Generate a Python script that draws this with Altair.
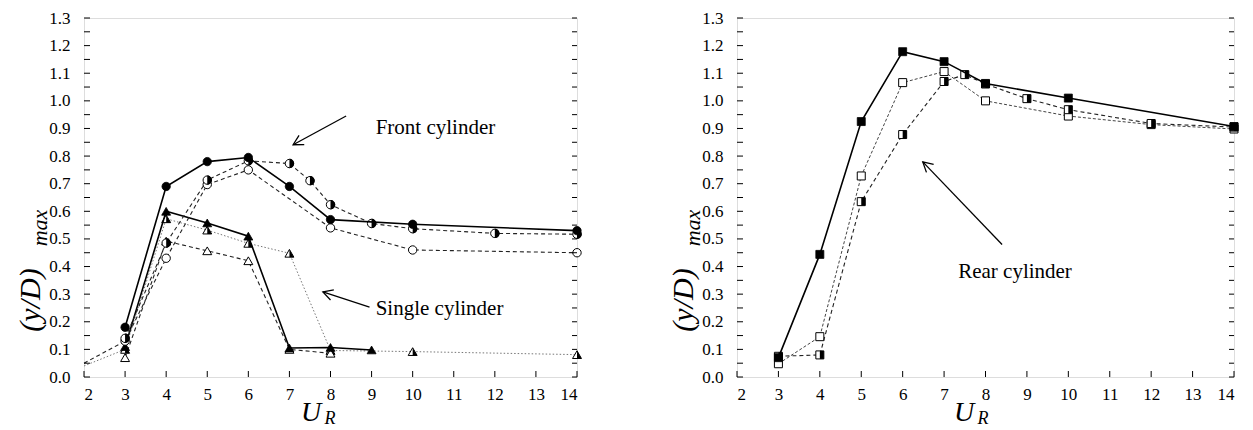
import altair as alt
import pandas as pd

FONT = "Liberation Serif"
WL, WR, H = 493, 497, 359

x_tick_vals = [2, 3, 4, 5, 6, 7, 8, 9, 10, 11, 12, 13, 14]
y_label_vals = [0.0, 0.1, 0.2, 0.3, 0.4, 0.5, 0.6, 0.7, 0.8, 0.9, 1.0, 1.1, 1.2, 1.3]
y_minor_vals = [0.0, 0.05, 0.1, 0.15, 0.2, 0.25, 0.3, 0.35, 0.4, 0.45, 0.5, 0.55, 0.6,
                0.65, 0.7, 0.75, 0.8, 0.85, 0.9, 0.95, 1.0, 1.05, 1.1, 1.15, 1.2, 1.25, 1.3]

# ---- left panel (front / single cylinder) ----
L_fc_x = [3, 4, 5, 6, 7, 8, 10, 14]
L_fc_y = [0.18, 0.69, 0.78, 0.795, 0.69, 0.57, 0.553, 0.53]
L_hc_x = [3, 4, 5, 6, 7, 7.5, 8, 9, 10, 12, 14]
L_hc_y = [0.14, 0.485, 0.713, 0.783, 0.773, 0.711, 0.624, 0.556, 0.537, 0.52, 0.517]
L_oc_x = [2, 3, 4, 5, 6, 8, 10, 14]
L_oc_y = [0.05, 0.13, 0.43, 0.697, 0.75, 0.54, 0.46, 0.45]
L_ft_x = [3, 4, 5, 6, 7, 8, 9]
L_ft_y = [0.11, 0.60, 0.558, 0.51, 0.105, 0.107, 0.098]
L_ht_x = [2, 3, 4, 5, 6, 7, 8, 10, 14]
L_ht_y = [0.04, 0.10, 0.573, 0.532, 0.484, 0.448, 0.096, 0.092, 0.081]
L_ot_x = [3, 4, 5, 6, 7, 8]
L_ot_y = [0.07, 0.492, 0.457, 0.421, 0.10, 0.086]

# ---- right panel (rear cylinder) ----
R_fs_x = [3, 4, 5, 6, 7, 8, 10, 14]
R_fs_y = [0.07, 0.444, 0.925, 1.178, 1.142, 1.063, 1.01, 0.907]
R_hs_x = [3, 4, 5, 6, 7, 7.5, 8, 9, 10, 12, 14]
R_hs_y = [0.075, 0.08, 0.635, 0.878, 1.07, 1.095, 1.061, 1.008, 0.968, 0.918, 0.905]
R_os_x = [3, 4, 5, 6, 7, 8, 10, 12, 14]
R_os_y = [0.048, 0.146, 0.728, 1.066, 1.106, 1.0, 0.945, 0.914, 0.898]

LINE_STYLES = {
    "solid": dict(stroke="black", strokeWidth=1.6),
    "dashed": dict(stroke="#222222", strokeWidth=1.1, strokeDash=[4, 3]),
    "fdashed": dict(stroke="#444444", strokeWidth=1.0, strokeDash=[3, 2]),
    "dotted": dict(stroke="#777777", strokeWidth=1.0, strokeDash=[1.5, 2]),
}

SC = 70   # circle size
ST = 80   # triangle size
SS = 64   # square size
HALF_CIRCLE = "M0,-1A1,1,0,0,1,0,1Z"
HALF_TRI = "M0,-0.866L1,0.866L0,0.866Z"
HALF_SQ = "M0,-1L1,-1L1,1L0,1Z"
ARROW_HEAD = "M-1,-0.55L0,0L-1,0.55"

xs = alt.Scale(domain=[2, 14], nice=False, zero=False)
ys = alt.Scale(domain=[0, 1.3], nice=False, zero=False)
X = alt.X("x:Q", scale=xs, axis=alt.Axis(values=x_tick_vals, title=None, grid=False, ticks=False,
                                          domain=False, labelFont=FONT, labelFontSize=17,
                                          labelPadding=9, labelColor="black"))
Y = alt.Y("y:Q", scale=ys, axis=alt.Axis(values=y_label_vals, format=".1f", title=None, grid=False,
                                          ticks=False, domain=False, labelFont=FONT, labelFontSize=17,
                                          labelPadding=14, labelColor="black"))


def series_layers(xv, yv, line, marker):
    df = pd.DataFrame({"x": xv, "y": yv})
    base = alt.Chart(df).encode(x=X, y=Y)
    layers = [base.mark_line(**LINE_STYLES[line])]
    # markers at x=2 sit under the axis line in the reference: not drawn
    mb = alt.Chart(df[df["x"] > 2]).encode(x=X, y=Y)
    if marker == "fcircle":
        layers.append(mb.mark_point(shape="circle", filled=True, fill="black", stroke="black",
                                    strokeWidth=0.8, size=SC, opacity=1))
    elif marker == "ocircle":
        layers.append(mb.mark_point(shape="circle", filled=True, fill="white", stroke="black",
                                    strokeWidth=1, size=SC, opacity=1))
    elif marker == "hcircle":
        layers.append(mb.mark_point(shape="circle", filled=True, fill="white", stroke="black",
                                    strokeWidth=1, size=SC, opacity=1))
        layers.append(mb.mark_point(shape=HALF_CIRCLE, filled=True, fill="black", strokeWidth=0,
                                    size=SC * 4 / 3.14159, opacity=1))
    elif marker == "ftri":
        layers.append(mb.mark_point(shape="triangle-up", filled=True, fill="black", stroke="black",
                                    strokeWidth=0.8, size=ST, opacity=1))
    elif marker == "otri":
        layers.append(mb.mark_point(shape="triangle-up", filled=True, fill="white", stroke="black",
                                    strokeWidth=1, size=ST, opacity=1))
    elif marker == "htri":
        layers.append(mb.mark_point(shape="triangle-up", filled=True, fill="white", stroke="black",
                                    strokeWidth=1, size=ST, opacity=1))
        layers.append(mb.mark_point(shape=HALF_TRI, filled=True, fill="black", strokeWidth=0,
                                    size=ST, opacity=1))
    elif marker == "fsq":
        layers.append(mb.mark_point(shape="square", filled=True, fill="black", stroke="black",
                                    strokeWidth=0.8, size=SS, opacity=1))
    elif marker == "osq":
        layers.append(mb.mark_point(shape="square", filled=True, fill="white", stroke="black",
                                    strokeWidth=1, size=SS, opacity=1))
    elif marker == "hsq":
        layers.append(mb.mark_point(shape="square", filled=True, fill="white", stroke="black",
                                    strokeWidth=1, size=SS, opacity=1))
        layers.append(mb.mark_point(shape=HALF_SQ, filled=True, fill="black", strokeWidth=0,
                                    size=SS, opacity=1))
    return layers


def frame_layers(W):
    ydf = pd.DataFrame({"y": y_minor_vals})
    xdf = pd.DataFrame({"x": x_tick_vals})
    r = dict(stroke="black", strokeWidth=1)
    return [
        alt.Chart(ydf).mark_rule(**r).encode(y=Y, x=alt.value(0), x2=alt.value(6)),
        alt.Chart(ydf).mark_rule(**r).encode(y=Y, x=alt.value(W - 5), x2=alt.value(W)),
        alt.Chart(xdf).mark_rule(**r).encode(x=X, y=alt.value(H), y2=alt.value(H - 6)),
    ]


def title_layers():
    one = pd.DataFrame({"x": [0]})
    t = dict(font=FONT, fontStyle="italic", color="black")
    return [
        alt.Chart(one).mark_text(text="(y/D)", fontSize=30, angle=270, align="center",
                                 baseline="middle", **t).encode(x=alt.value(-53), y=alt.value(282)),
        alt.Chart(one).mark_text(text="max", fontSize=22, angle=270, align="center",
                                 baseline="middle", **t).encode(x=alt.value(-44), y=alt.value(210)),
        alt.Chart(one).mark_text(text="U", fontSize=28, align="center", baseline="middle",
                                 **t).encode(x=alt.value(227), y=alt.value(395)),
        alt.Chart(one).mark_text(text="R", fontSize=18, align="center", baseline="middle",
                                 **t).encode(x=alt.value(246), y=alt.value(401)),
    ]


def annotation_layers(label, text_xy, tail, tip, angle):
    t = pd.DataFrame({"x": [text_xy[0]], "y": [text_xy[1]]})
    a = pd.DataFrame({"x": [tail[0], tip[0]], "y": [tail[1], tip[1]], "o": [0, 1]})
    h = pd.DataFrame({"x": [tip[0]], "y": [tip[1]]})
    return [
        alt.Chart(t).mark_text(text=label, font=FONT, fontSize=21, align="left", baseline="middle",
                               color="black").encode(x=X, y=Y),
        alt.Chart(a).mark_line(stroke="black", strokeWidth=1.3).encode(x=X, y=Y, order="o:Q"),
        alt.Chart(h).mark_point(shape=ARROW_HEAD, filled=False, stroke="black", strokeWidth=1.3,
                                size=380, angle=angle, opacity=1).encode(x=X, y=Y),
    ]


left_layers = []
left_layers += series_layers(L_ht_x, L_ht_y, "dotted", "htri")
left_layers += series_layers(L_ot_x, L_ot_y, "dashed", "otri")
left_layers += series_layers(L_ft_x, L_ft_y, "solid", "ftri")
left_layers += series_layers(L_oc_x, L_oc_y, "dashed", "ocircle")
left_layers += series_layers(L_hc_x, L_hc_y, "dashed", "hcircle")
left_layers += series_layers(L_fc_x, L_fc_y, "solid", "fcircle")
left_layers += frame_layers(WL) + title_layers()
left_layers += annotation_layers("Front cylinder", (9.1, 0.90), (8.38, 0.945), (7.09, 0.841), 151)
left_layers += annotation_layers("Single cylinder", (9.1, 0.245), (8.95, 0.253), (7.815, 0.308), 198)

right_layers = []
right_layers += series_layers(R_os_x, R_os_y, "fdashed", "osq")
right_layers += series_layers(R_hs_x, R_hs_y, "dashed", "hsq")
right_layers += series_layers(R_fs_x, R_fs_y, "solid", "fsq")
right_layers += frame_layers(WR) + title_layers()
right_layers += annotation_layers("Rear cylinder", (7.34, 0.38), (8.4, 0.48), (6.486, 0.779), 222)

left = alt.layer(*left_layers).properties(width=WL, height=H)
right = alt.layer(*right_layers).properties(width=WR, height=H)

chart = alt.hconcat(left, right, spacing=84).properties(
    padding={"left": 7, "top": 0, "right": 2, "bottom": 0}
).configure_view(stroke="black", strokeWidth=1.5).configure_axis(
    labelFont=FONT
).configure(background="white")

chart.save("out.html", embed_options={"renderer": "svg", "actions": False})
